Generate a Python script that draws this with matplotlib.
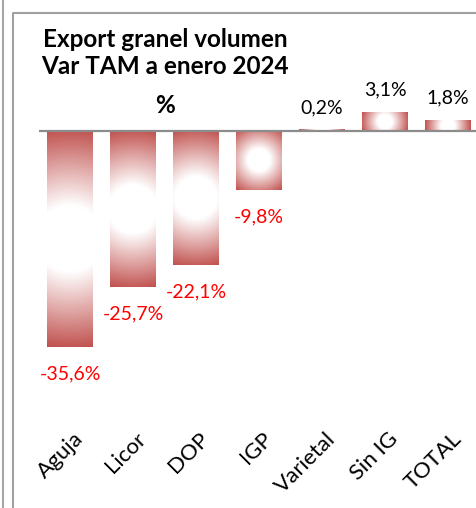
import numpy as np
import matplotlib
matplotlib.use("Agg")
import matplotlib.pyplot as plt
from matplotlib.lines import Line2D
from matplotlib.transforms import ScaledTranslation

# data
categories = ["Aguja", "Licor", "DOP", "IGP", "Varietal", "Sin IG", "TOTAL"]
values = [-35.6, -25.7, -22.1, -9.8, 0.2, 3.1, 1.8]
value_labels = ["-35,6%", "-25,7%", "-22,1%", "-9,8%", "0,2%", "3,1%", "1,8%"]
title_lines = ["Export granel volumen", "Var TAM a enero 2024", "%"]
title_baselines = [47, 74, 113]  # px from top

RED = np.array([192, 80, 77]) / 255.0
W, H = 476, 508

plt.rcParams['font.family'] = ['Lato', 'DejaVu Sans']

fig = plt.figure(figsize=(W / 100, H / 100), dpi=100)
fig.patch.set_facecolor('white')

# axes in pixel terms: x -0.5 -> 38.5px, 63px per category; y 0 at 131px
ax_top, ax_bot = 40, 420
ax = fig.add_axes([38.5 / W, (H - ax_bot) / H, 441 / W, (ax_bot - ax_top) / H])
px_per_unit = 6.07
ylim = (-(ax_bot - 131) / px_per_unit, (131 - ax_top) / px_per_unit)
for s in ax.spines.values():
    s.set_visible(False)
ax.set_facecolor('none')
ax.tick_params(axis='y', left=False, labelleft=False)
ax.tick_params(axis='x', length=0, pad=2)

x = np.arange(len(categories))
bars = ax.bar(x, values, width=0.73, color='none', edgecolor='none')


def radial_fill(bar):
    # white core fading to red towards the corners
    x0, y0 = bar.get_x(), bar.get_y()
    w, h = bar.get_width(), bar.get_height()
    if h < 0:
        y0, h = y0 + h, -h
    pw = w * 63
    ph = h * px_per_unit
    nx = max(int(pw * 2), 4)
    ny = max(int(ph * 2), 4)
    gx = np.linspace(-pw / 2, pw / 2, nx)
    gy = np.linspace(-ph / 2, ph / 2, ny)
    X, Y = np.meshgrid(gx, gy)
    R = np.sqrt(X ** 2 + Y ** 2) / np.sqrt((pw / 2) ** 2 + (ph / 2) ** 2)
    a = np.clip((R - 0.3) / 0.7, 0, 1)[..., None]
    img = (1 - a) * np.ones(3) + a * RED
    ax.imshow(img, extent=(x0, x0 + w, y0, y0 + h), aspect='auto',
              interpolation='bilinear', zorder=2)


for b in bars:
    radial_fill(b)

ax.set_xlim(-0.5, 6.5)
ax.set_ylim(*ylim)

ax.axhline(0, color='#8c8c8c', linewidth=1.6, zorder=3)

for b, v, lab in zip(bars, values, value_labels):
    cx = b.get_x() + b.get_width() / 2
    if v < 0:
        ax.annotate(lab, (cx, v), xytext=(0, -19), textcoords='offset points',
                    ha='center', va='center', color='#ff0000', fontsize=14)
    else:
        ax.annotate(lab, (cx, v), xytext=(0, 16), textcoords='offset points',
                    ha='center', va='center', color='black', fontsize=14)

ax.set_xticks(x)
ax.set_xticklabels(categories, rotation=45, ha='right', va='top',
                   rotation_mode='anchor', fontsize=16)
for lbl in ax.get_xticklabels():
    lbl.set_transform(lbl.get_transform() + ScaledTranslation(0.03, -0.06, fig.dpi_scale_trans))

for line, yb in zip(title_lines, title_baselines):
    fig.text(165 / W, 1 - yb / H, line, ha='center', va='baseline', fontsize=17.5,
             fontweight='bold')

# frame lines
fig.add_artist(Line2D([2.5 / W, 2.5 / W], [0, 1], color='#a6a6a6', linewidth=1.5,
                      transform=fig.transFigure))
fig.add_artist(Line2D([12.5 / W, 12.5 / W, 1], [0, 1 - 12.5 / H, 1 - 12.5 / H],
                      color='#a0a0a0', linewidth=1.5, transform=fig.transFigure))

fig.savefig("out.png", dpi=100)
